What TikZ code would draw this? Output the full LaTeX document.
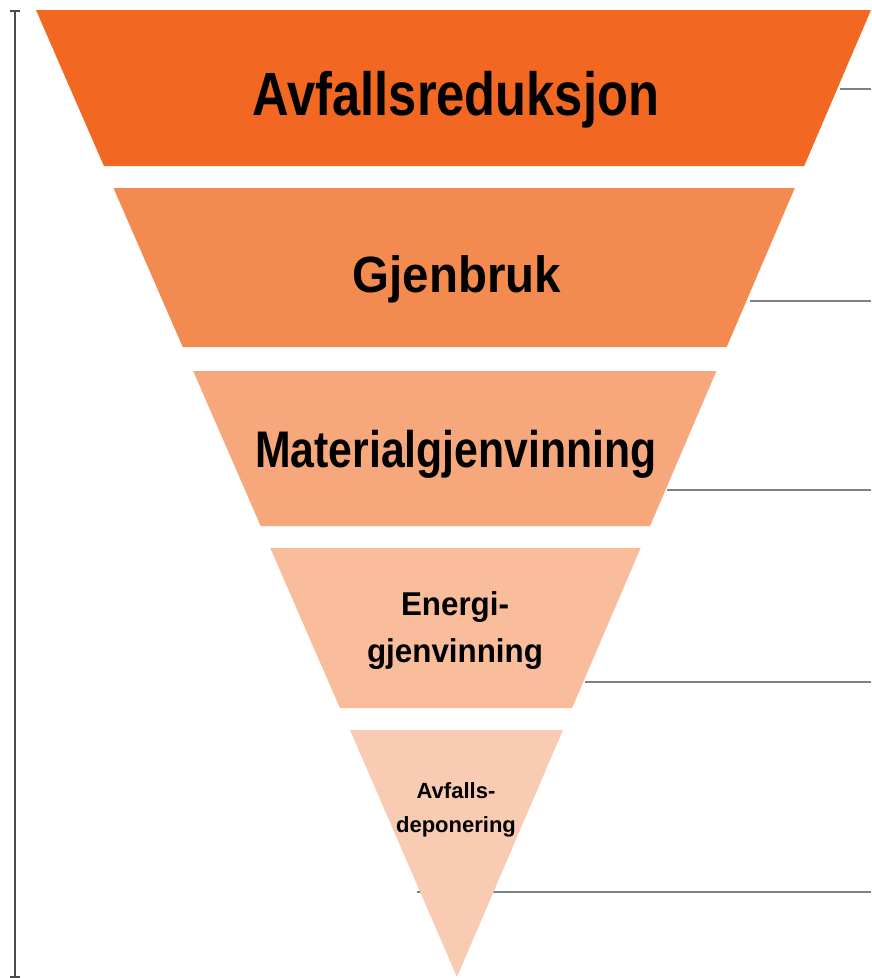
\documentclass[tikz,border=0pt]{standalone}
\usepackage{fontspec}
\setmainfont{Liberation Sans}
\definecolor{lvlone}{HTML}{F26822}
\definecolor{lvltwo}{HTML}{F38A50}
\definecolor{lvlthree}{HTML}{F6A77B}
\definecolor{lvlfour}{HTML}{F9BD9B}
\definecolor{lvlfive}{HTML}{FACBB3}
\tikzset{
	lbl/.style 2 args={inner sep=0pt, anchor=base, align=center, font=\bfseries\fontsize{#1}{#2}\selectfont},
	rule/.style={draw=black!50, line width=1.8pt},
}

\begin{document}
\begin{tikzpicture}[x=1pt,y=-1pt]
\useasboundingbox (0,0) rectangle (871,978);
% scale bar on the left
\draw[line width=2pt, black!70] (15,11) -- (15,977);
\foreach \y in {11,977}
	\draw[line width=2pt, black!70] (10,\y) -- (20,\y);
% grey lines, behind the pyramid
\foreach \xs/\y in {840/89,750/301,667/490,585/682,417/892}
	\draw[rule] (\xs,\y) -- (871,\y);
% pyramid
\foreach \ya/\yb/\col in {10/166/lvlone,188/347/lvltwo,371/526/lvlthree,548/708/lvlfour}
	\fill[\col] ({36+0.4354*(\ya-10)},\ya) -- ({871-0.4282*(\ya-10)},\ya)
		-- ({871-0.4282*(\yb-10)},\yb) -- ({36+0.4354*(\yb-10)},\yb) -- cycle;
\fill[lvlfive] (350,730) -- (563,730) -- (457,977) -- cycle;
% labels (base = last line)
\node[lbl={61}{61}, xscale=0.83] (reduksjon) at (456,115) {Avfallsreduksjon};
\node[lbl={51}{51}, xscale=0.93] (gjenbruk) at (457,292) {Gjenbruk};
\node[lbl={51.5}{51.5}, xscale=0.83] (material) at (456,467) {Materialgjenvinning};
\node[lbl={33}{47}, xscale=0.95] (energi) at (455,662) {Energi-\\gjenvinning};
\node[lbl={22}{34}] (deponering) at (456,832) {Avfalls-\\deponering};
\end{tikzpicture}
\end{document}
